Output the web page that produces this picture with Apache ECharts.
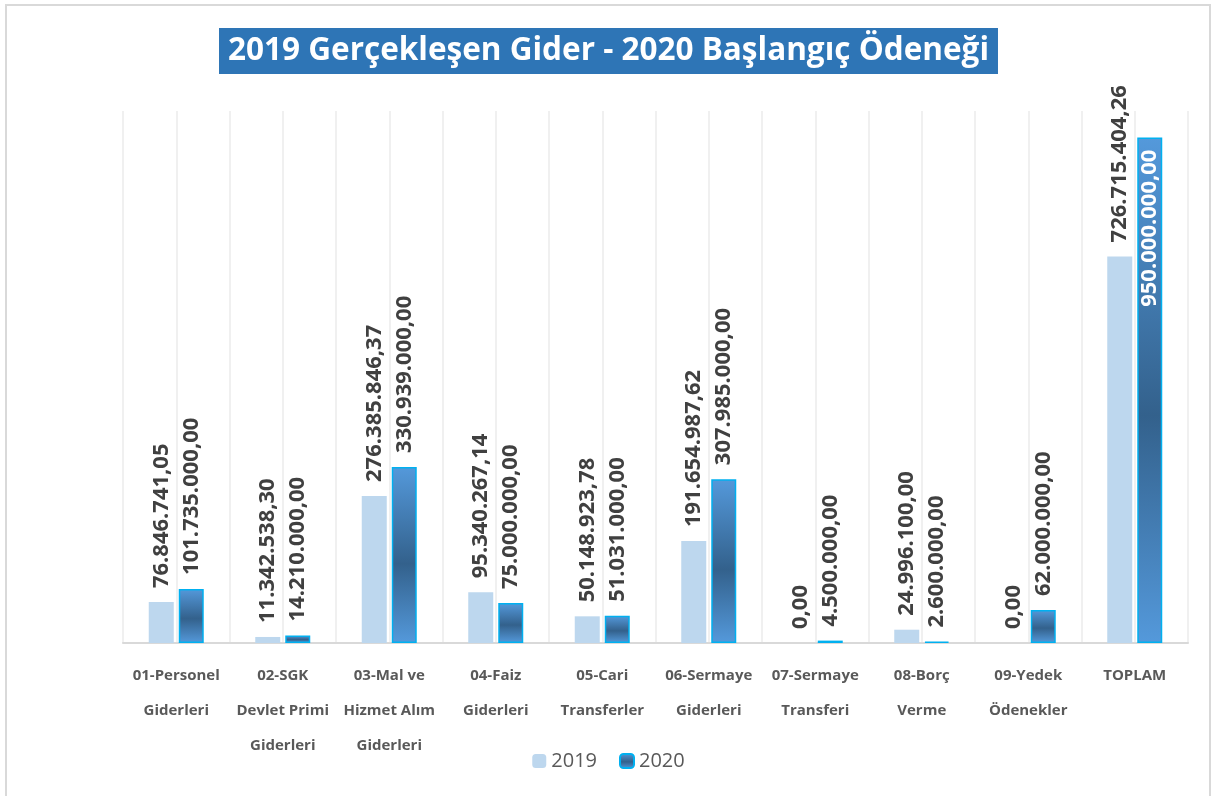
<!DOCTYPE html>
<html>
<head>
<meta charset="utf-8">
<script src="https://cdn.jsdelivr.net/npm/echarts@6/dist/echarts.min.js"></script>
<style>
  html, body { margin: 0; padding: 0; background: #fff; }
  #chart { width: 1217px; height: 796px; }
</style>
</head>
<body>
<div id="chart"></div>
<script>
const categories = [
  '01-Personel\nGiderleri',
  '02-SGK\nDevlet Primi\nGiderleri',
  '03-Mal ve\nHizmet Alım\nGiderleri',
  '04-Faiz\nGiderleri',
  '05-Cari\nTransferler',
  '06-Sermaye\nGiderleri',
  '07-Sermaye\nTransferi',
  '08-Borç\nVerme',
  '09-Yedek\nÖdenekler',
  'TOPLAM'
];
const values2019 = [76846741.05, 11342538.30, 276385846.37, 95340267.14, 50148923.78, 191654987.62, 0, 24996100.00, 0, 726715404.26];
const values2020 = [101735000, 14210000, 330939000, 75000000, 51031000, 307985000, 4500000, 2600000, 62000000, 950000000];
const seriesNames = ['2019', '2020'];

// 1.234.567,89 style
function trFormat(v) {
  const parts = Number(v).toFixed(2).split('.');
  return parts[0].replace(/\B(?=(\d{3})+(?!\d))/g, '.') + ',' + parts[1];
}

const chart = echarts.init(document.getElementById('chart'));

const labelBase = {
  show: true,
  position: 'top',
  rotate: 90,
  align: 'left',
  verticalAlign: 'middle',
  distance: 14,
  fontFamily: 'Open Sans',
  fontWeight: 'bold',
  fontSize: 22,
  color: '#404040',
  formatter: p => trFormat(p.value)
};

// last 2020 bar keeps its label inside, in white
const data2020 = values2020.map((v, i) => i === values2020.length - 1
  ? { value: v, label: { position: 'insideTop', align: 'right', color: '#fff', distance: 12 } }
  : v);

const option = {
  animation: false,
  textStyle: { fontFamily: 'Open Sans' },
  title: {
    text: '2019 Gerçekleşen Gider - 2020 Başlangıç Ödeneği',
    left: 'center',
    top: 28,
    backgroundColor: '#2e75b6',
    padding: [7, 9, 7, 9],
    textStyle: { color: '#fff', fontSize: 31.5, fontWeight: 'bold', fontFamily: 'Open Sans' }
  },
  graphic: [{
    type: 'rect',
    shape: { x: 6, y: 5, width: 1204, height: 800 },
    style: { fill: 'none', stroke: '#d9d9d9', lineWidth: 2 },
    silent: true
  }],
  legend: {
    data: seriesNames,
    bottom: 20,
    left: 'center',
    itemWidth: 14,
    itemHeight: 14,
    itemGap: 22,
    textStyle: { color: '#595959', fontSize: 20, fontFamily: 'Open Sans' }
  },
  grid: { left: 123, right: 29, top: 111, bottom: 153 },
  xAxis: [{
    type: 'category',
    data: categories,
    axisLine: { lineStyle: { color: '#d9d9d9', width: 2 } },
    axisTick: { show: false },
    splitLine: { show: true, lineStyle: { color: '#d9d9d9', width: 2 } },
    axisLabel: {
      interval: 0,
      margin: 15,
      color: '#595959',
      fontWeight: 'bold',
      fontSize: 15,
      lineHeight: 35,
      fontFamily: 'Open Sans'
    }
  }, {
    // half-category lines, faint
    type: 'category',
    data: new Array(categories.length * 2).fill(''),
    position: 'bottom',
    axisLine: { show: false },
    axisTick: { show: false },
    axisLabel: { show: false },
    splitLine: { show: true, lineStyle: { color: '#f0f0f0', width: 2 } }
  }],
  yAxis: {
    type: 'value',
    min: 0,
    max: 1000000000,
    show: false,
    splitLine: { show: false }
  },
  series: [{
    name: seriesNames[0],
    type: 'bar',
    xAxisIndex: 0,
    barWidth: 25,
    barGap: '20%',
    itemStyle: { color: '#bdd7ee' },
    label: labelBase,
    data: values2019
  }, {
    name: seriesNames[1],
    type: 'bar',
    xAxisIndex: 0,
    barWidth: 25,
    itemStyle: {
      color: {
        type: 'linear', x: 0, y: 0, x2: 0, y2: 1,
        colorStops: [
          { offset: 0, color: '#5499db' },
          { offset: 0.55, color: '#33618c' },
          { offset: 1, color: '#5499db' }
        ]
      },
      borderColor: '#00b0f0',
      borderWidth: 1.5
    },
    label: labelBase,
    data: data2020
  }]
};

chart.setOption(option);
</script>
</body>
</html>
